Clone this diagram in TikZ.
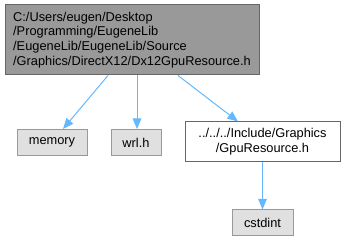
\documentclass[tikz,border=0pt]{standalone}
\usepackage{fontspec}
\setmainfont{Liberation Sans}
\usepackage{tikz}
\usetikzlibrary{arrows.meta,calc,positioning}
\definecolor{edgeblue}{RGB}{99,184,255}
\definecolor{maingrey}{RGB}{153,153,153}
\definecolor{lightgrey}{RGB}{224,224,224}
\definecolor{darkborder}{RGB}{102,102,102}

\begin{document}
\begin{tikzpicture}[x=0.75pt, y=-0.75pt, >={Triangle[length=8pt,width=6.5pt]},
    every node/.style={font=\fontsize{9.6}{11.1}\selectfont, inner sep=0pt, line width=0.75pt},
    mainfile/.style={draw=darkborder, fill=maingrey, align=left},
    header/.style={draw=darkborder, fill=white, align=center},
    sysfile/.style={draw=maingrey, fill=lightgrey, minimum height=26*0.75pt},
    dep/.style={->, draw=edgeblue, line width=0.75pt}]
    \useasboundingbox (0,0) rectangle (345,241);

    \node[mainfile, minimum width=254*0.75pt, minimum height=70*0.75pt] (dx12)     at (132,40)    {C:/Users/eugen/Desktop\\/Programming/EugeneLib\\/EugeneLib/EugeneLib/Source\\/Graphics/DirectX12/Dx12GpuResource.h};
    \node[sysfile, minimum width=70*0.75pt]                            (memory)   at (52,142.5)  {memory};
    \node[sysfile, minimum width=50*0.75pt]                            (wrl)      at (136,142.5) {wrl.h};
    \node[header, minimum width=155*0.75pt, minimum height=40*0.75pt]  (gpures)   at (262.5,142) {../../../Include/Graphics\\/GpuResource.h};
    \node[sysfile, minimum width=61*0.75pt]                            (cstdint)  at (262.5,223) {cstdint};

    \draw[dep] ($(dx12.south)+(-24,0)$) -- ($(memory.north)+(11,0)$);
    \draw[dep] ($(dx12.south)+(5,0)$)   -- ($(wrl.north)+(1,0)$);
    \draw[dep] ($(dx12.south)+(46,0)$)  -- ($(gpures.north)+(-24.5,0)$);
    \draw[dep] (gpures.south)           -- (cstdint.north);
\end{tikzpicture}
\end{document}
